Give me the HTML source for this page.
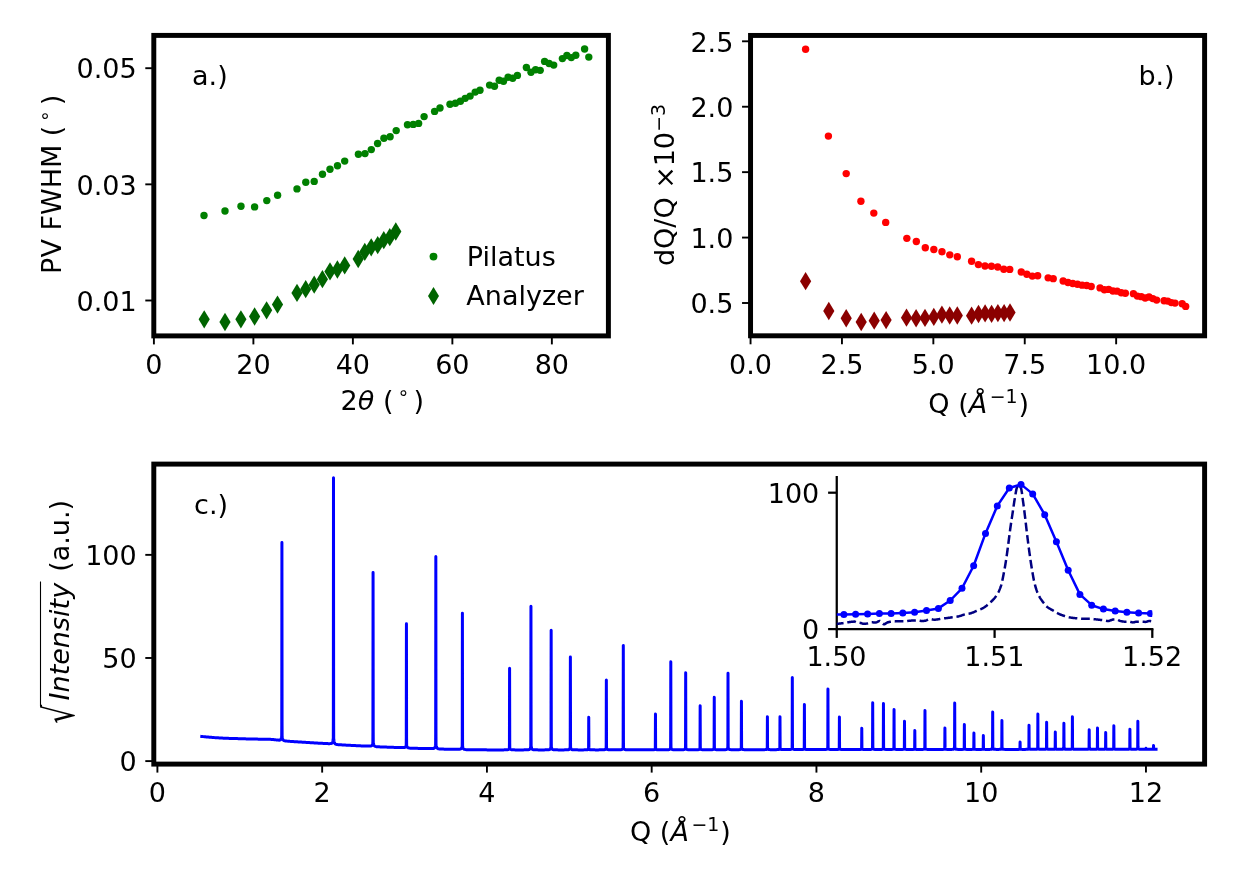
<!DOCTYPE html>
<html><head><meta charset="utf-8"><title>figure</title>
<style>html,body{margin:0;padding:0;background:#fff}svg{display:block;will-change:transform;transform:translateZ(0)}</style></head>
<body>
<svg width="1240" height="886" viewBox="0 0 1240 886" font-family='"DejaVu Sans", "Liberation Sans", sans-serif' fill="#000">
<rect width="1240" height="886" fill="#fff"/>
<g id="pa">
<circle cx="204.00" cy="215.50" r="3.7" fill="#008000"/>
<circle cx="225.00" cy="211.00" r="3.7" fill="#008000"/>
<circle cx="241.00" cy="206.30" r="3.7" fill="#008000"/>
<circle cx="254.60" cy="206.90" r="3.7" fill="#008000"/>
<circle cx="266.80" cy="200.60" r="3.7" fill="#008000"/>
<circle cx="277.60" cy="195.20" r="3.7" fill="#008000"/>
<circle cx="297.00" cy="188.90" r="3.7" fill="#008000"/>
<circle cx="305.80" cy="182.30" r="3.7" fill="#008000"/>
<circle cx="314.20" cy="181.40" r="3.7" fill="#008000"/>
<circle cx="322.50" cy="174.20" r="3.7" fill="#008000"/>
<circle cx="330.00" cy="169.20" r="3.7" fill="#008000"/>
<circle cx="337.50" cy="165.80" r="3.7" fill="#008000"/>
<circle cx="344.70" cy="161.10" r="3.7" fill="#008000"/>
<circle cx="358.40" cy="154.30" r="3.7" fill="#008000"/>
<circle cx="365.00" cy="153.60" r="3.7" fill="#008000"/>
<circle cx="371.30" cy="149.60" r="3.7" fill="#008000"/>
<circle cx="377.60" cy="143.50" r="3.7" fill="#008000"/>
<circle cx="383.90" cy="138.30" r="3.7" fill="#008000"/>
<circle cx="390.10" cy="136.70" r="3.7" fill="#008000"/>
<circle cx="396.20" cy="130.60" r="3.7" fill="#008000"/>
<circle cx="407.50" cy="124.70" r="3.7" fill="#008000"/>
<circle cx="413.20" cy="124.40" r="3.7" fill="#008000"/>
<circle cx="418.60" cy="123.40" r="3.7" fill="#008000"/>
<circle cx="424.10" cy="116.60" r="3.7" fill="#008000"/>
<circle cx="434.60" cy="111.40" r="3.7" fill="#008000"/>
<circle cx="440.00" cy="108.00" r="3.7" fill="#008000"/>
<circle cx="450.00" cy="104.30" r="3.7" fill="#008000"/>
<circle cx="455.40" cy="103.30" r="3.7" fill="#008000"/>
<circle cx="460.40" cy="101.20" r="3.7" fill="#008000"/>
<circle cx="465.20" cy="98.35" r="3.7" fill="#008000"/>
<circle cx="470.10" cy="96.10" r="3.7" fill="#008000"/>
<circle cx="475.20" cy="92.10" r="3.7" fill="#008000"/>
<circle cx="480.00" cy="90.30" r="3.7" fill="#008000"/>
<circle cx="489.60" cy="85.10" r="3.7" fill="#008000"/>
<circle cx="494.50" cy="86.20" r="3.7" fill="#008000"/>
<circle cx="499.20" cy="80.30" r="3.7" fill="#008000"/>
<circle cx="503.50" cy="81.30" r="3.7" fill="#008000"/>
<circle cx="508.10" cy="77.20" r="3.7" fill="#008000"/>
<circle cx="512.70" cy="78.20" r="3.7" fill="#008000"/>
<circle cx="517.40" cy="75.40" r="3.7" fill="#008000"/>
<circle cx="526.40" cy="67.50" r="3.7" fill="#008000"/>
<circle cx="531.00" cy="72.20" r="3.7" fill="#008000"/>
<circle cx="535.60" cy="69.70" r="3.7" fill="#008000"/>
<circle cx="540.20" cy="70.35" r="3.7" fill="#008000"/>
<circle cx="544.60" cy="61.40" r="3.7" fill="#008000"/>
<circle cx="549.10" cy="63.50" r="3.7" fill="#008000"/>
<circle cx="553.70" cy="65.10" r="3.7" fill="#008000"/>
<circle cx="562.40" cy="58.60" r="3.7" fill="#008000"/>
<circle cx="566.90" cy="55.45" r="3.7" fill="#008000"/>
<circle cx="571.30" cy="57.60" r="3.7" fill="#008000"/>
<circle cx="575.80" cy="55.20" r="3.7" fill="#008000"/>
<circle cx="584.60" cy="49.00" r="3.7" fill="#008000"/>
<circle cx="588.80" cy="57.10" r="3.7" fill="#008000"/>
<path d="M204.20 310.15L209.80 319.30L204.20 328.45L198.60 319.30Z" fill="#006400"/>
<path d="M225.00 312.85L230.60 322.00L225.00 331.15L219.40 322.00Z" fill="#006400"/>
<path d="M240.90 310.15L246.50 319.30L240.90 328.45L235.30 319.30Z" fill="#006400"/>
<path d="M254.60 307.35L260.20 316.50L254.60 325.65L249.00 316.50Z" fill="#006400"/>
<path d="M266.60 301.15L272.20 310.30L266.60 319.45L261.00 310.30Z" fill="#006400"/>
<path d="M277.50 295.45L283.10 304.60L277.50 313.75L271.90 304.60Z" fill="#006400"/>
<path d="M297.00 283.75L302.60 292.90L297.00 302.05L291.40 292.90Z" fill="#006400"/>
<path d="M305.70 280.05L311.30 289.20L305.70 298.35L300.10 289.20Z" fill="#006400"/>
<path d="M314.20 275.55L319.80 284.70L314.20 293.85L308.60 284.70Z" fill="#006400"/>
<path d="M322.40 270.05L328.00 279.20L322.40 288.35L316.80 279.20Z" fill="#006400"/>
<path d="M330.00 262.25L335.60 271.40L330.00 280.55L324.40 271.40Z" fill="#006400"/>
<path d="M337.40 260.35L343.00 269.50L337.40 278.65L331.80 269.50Z" fill="#006400"/>
<path d="M344.70 256.25L350.30 265.40L344.70 274.55L339.10 265.40Z" fill="#006400"/>
<path d="M358.20 249.85L363.80 259.00L358.20 268.15L352.60 259.00Z" fill="#006400"/>
<path d="M364.80 242.75L370.40 251.90L364.80 261.05L359.20 251.90Z" fill="#006400"/>
<path d="M371.20 238.15L376.80 247.30L371.20 256.45L365.60 247.30Z" fill="#006400"/>
<path d="M377.70 236.05L383.30 245.20L377.70 254.35L372.10 245.20Z" fill="#006400"/>
<path d="M383.80 231.05L389.40 240.20L383.80 249.35L378.20 240.20Z" fill="#006400"/>
<path d="M389.80 228.05L395.40 237.20L389.80 246.35L384.20 237.20Z" fill="#006400"/>
<path d="M395.80 222.35L401.40 231.50L395.80 240.65L390.20 231.50Z" fill="#006400"/>
<rect x="153.80" y="35.40" width="454.60" height="300.50" fill="none" stroke="#000" stroke-width="4.95" stroke-linejoin="miter"/>
<line x1="153.90" y1="335.90" x2="153.90" y2="344.40" stroke="#000" stroke-width="1.9"/>
<text x="153.90" y="373.60" font-size="27.00" text-anchor="middle" >0</text>
<line x1="253.39" y1="335.90" x2="253.39" y2="344.40" stroke="#000" stroke-width="1.9"/>
<text x="253.39" y="373.60" font-size="27.00" text-anchor="middle" >20</text>
<line x1="352.88" y1="335.90" x2="352.88" y2="344.40" stroke="#000" stroke-width="1.9"/>
<text x="352.88" y="373.60" font-size="27.00" text-anchor="middle" >40</text>
<line x1="452.37" y1="335.90" x2="452.37" y2="344.40" stroke="#000" stroke-width="1.9"/>
<text x="452.37" y="373.60" font-size="27.00" text-anchor="middle" >60</text>
<line x1="551.86" y1="335.90" x2="551.86" y2="344.40" stroke="#000" stroke-width="1.9"/>
<text x="551.86" y="373.60" font-size="27.00" text-anchor="middle" >80</text>
<line x1="153.80" y1="300.50" x2="145.30" y2="300.50" stroke="#000" stroke-width="1.9"/>
<text x="136.70" y="310.65" font-size="27.00" text-anchor="end" >0.01</text>
<line x1="153.80" y1="184.35" x2="145.30" y2="184.35" stroke="#000" stroke-width="1.9"/>
<text x="136.70" y="194.50" font-size="27.00" text-anchor="end" >0.03</text>
<line x1="153.80" y1="68.20" x2="145.30" y2="68.20" stroke="#000" stroke-width="1.9"/>
<text x="136.70" y="78.35" font-size="27.00" text-anchor="end" >0.05</text>
<text x="192.00" y="84.80" font-size="27.00" text-anchor="start" >a.)</text>
<circle cx="433.50" cy="256.60" r="3.9" fill="#008000"/>
<path d="M433.50 287.10L439.00 296.10L433.50 305.10L428.00 296.10Z" fill="#006400"/>
<text x="466.80" y="265.90" font-size="27.00" text-anchor="start" >Pilatus</text>
<text x="466.30" y="305.20" font-size="27.00" text-anchor="start" >Analyzer</text>
<text x="340.6" y="409.6" font-size="27.0">2<tspan font-style="italic">θ</tspan> (<tspan font-size="18.9" dy="-10.2" dx="4.1">∘</tspan><tspan dy="10.2" dx="4.1">)</tspan></text>
<text transform="translate(61.3,273.9) rotate(-90)" font-size="27.0">PV FWHM (<tspan font-size="18.9" dy="-10.6" dx="3.7">∘</tspan><tspan dy="10.6" dx="4.9">)</tspan></text>
</g>
<g id="pb">
<circle cx="805.60" cy="49.20" r="3.7" fill="#ff0000"/>
<circle cx="828.40" cy="136.10" r="3.7" fill="#ff0000"/>
<circle cx="846.20" cy="173.60" r="3.7" fill="#ff0000"/>
<circle cx="860.90" cy="201.20" r="3.7" fill="#ff0000"/>
<circle cx="873.80" cy="213.10" r="3.7" fill="#ff0000"/>
<circle cx="885.70" cy="222.40" r="3.7" fill="#ff0000"/>
<circle cx="906.85" cy="238.33" r="3.7" fill="#ff0000"/>
<circle cx="916.33" cy="241.44" r="3.7" fill="#ff0000"/>
<circle cx="925.30" cy="247.82" r="3.7" fill="#ff0000"/>
<circle cx="933.83" cy="249.44" r="3.7" fill="#ff0000"/>
<circle cx="941.98" cy="251.75" r="3.7" fill="#ff0000"/>
<circle cx="949.79" cy="254.83" r="3.7" fill="#ff0000"/>
<circle cx="957.32" cy="256.78" r="3.7" fill="#ff0000"/>
<circle cx="971.59" cy="261.30" r="3.7" fill="#ff0000"/>
<circle cx="978.39" cy="264.61" r="3.7" fill="#ff0000"/>
<circle cx="985.00" cy="265.96" r="3.7" fill="#ff0000"/>
<circle cx="991.42" cy="266.25" r="3.7" fill="#ff0000"/>
<circle cx="997.68" cy="266.97" r="3.7" fill="#ff0000"/>
<circle cx="1003.79" cy="269.23" r="3.7" fill="#ff0000"/>
<circle cx="1009.74" cy="269.39" r="3.7" fill="#ff0000"/>
<circle cx="1021.27" cy="271.97" r="3.7" fill="#ff0000"/>
<circle cx="1026.85" cy="274.28" r="3.7" fill="#ff0000"/>
<circle cx="1032.32" cy="276.10" r="3.7" fill="#ff0000"/>
<circle cx="1037.69" cy="275.68" r="3.7" fill="#ff0000"/>
<circle cx="1048.14" cy="277.83" r="3.7" fill="#ff0000"/>
<circle cx="1053.22" cy="278.64" r="3.7" fill="#ff0000"/>
<circle cx="1063.15" cy="280.99" r="3.7" fill="#ff0000"/>
<circle cx="1068.00" cy="282.54" r="3.7" fill="#ff0000"/>
<circle cx="1072.77" cy="283.55" r="3.7" fill="#ff0000"/>
<circle cx="1077.48" cy="284.23" r="3.7" fill="#ff0000"/>
<circle cx="1082.11" cy="285.13" r="3.7" fill="#ff0000"/>
<circle cx="1086.69" cy="285.52" r="3.7" fill="#ff0000"/>
<circle cx="1091.20" cy="286.50" r="3.7" fill="#ff0000"/>
<circle cx="1100.05" cy="287.92" r="3.7" fill="#ff0000"/>
<circle cx="1104.39" cy="289.72" r="3.7" fill="#ff0000"/>
<circle cx="1108.68" cy="289.42" r="3.7" fill="#ff0000"/>
<circle cx="1112.92" cy="290.96" r="3.7" fill="#ff0000"/>
<circle cx="1117.11" cy="291.15" r="3.7" fill="#ff0000"/>
<circle cx="1121.25" cy="292.72" r="3.7" fill="#ff0000"/>
<circle cx="1125.34" cy="293.27" r="3.7" fill="#ff0000"/>
<circle cx="1133.41" cy="293.67" r="3.7" fill="#ff0000"/>
<circle cx="1137.37" cy="296.10" r="3.7" fill="#ff0000"/>
<circle cx="1141.30" cy="296.67" r="3.7" fill="#ff0000"/>
<circle cx="1145.19" cy="298.01" r="3.7" fill="#ff0000"/>
<circle cx="1149.04" cy="296.96" r="3.7" fill="#ff0000"/>
<circle cx="1152.85" cy="298.59" r="3.7" fill="#ff0000"/>
<circle cx="1156.63" cy="300.10" r="3.7" fill="#ff0000"/>
<circle cx="1164.08" cy="300.71" r="3.7" fill="#ff0000"/>
<circle cx="1167.76" cy="301.08" r="3.7" fill="#ff0000"/>
<circle cx="1171.40" cy="302.59" r="3.7" fill="#ff0000"/>
<circle cx="1175.01" cy="303.11" r="3.7" fill="#ff0000"/>
<circle cx="1182.15" cy="303.81" r="3.7" fill="#ff0000"/>
<circle cx="1185.67" cy="306.42" r="3.7" fill="#ff0000"/>
<path d="M805.60 272.00L811.20 281.15L805.60 290.30L800.00 281.15Z" fill="#8b0000"/>
<path d="M828.80 301.85L834.40 311.00L828.80 320.15L823.20 311.00Z" fill="#8b0000"/>
<path d="M846.20 309.10L851.80 318.25L846.20 327.40L840.60 318.25Z" fill="#8b0000"/>
<path d="M861.20 312.85L866.80 322.00L861.20 331.15L855.60 322.00Z" fill="#8b0000"/>
<path d="M874.20 311.55L879.80 320.70L874.20 329.85L868.60 320.70Z" fill="#8b0000"/>
<path d="M886.10 310.95L891.70 320.10L886.10 329.25L880.50 320.10Z" fill="#8b0000"/>
<path d="M906.50 308.55L912.10 317.70L906.50 326.85L900.90 317.70Z" fill="#8b0000"/>
<path d="M916.10 309.10L921.70 318.25L916.10 327.40L910.50 318.25Z" fill="#8b0000"/>
<path d="M925.00 308.75L930.60 317.90L925.00 327.05L919.40 317.90Z" fill="#8b0000"/>
<path d="M933.80 307.80L939.40 316.95L933.80 326.10L928.20 316.95Z" fill="#8b0000"/>
<path d="M941.90 305.55L947.50 314.70L941.90 323.85L936.30 314.70Z" fill="#8b0000"/>
<path d="M949.70 306.35L955.30 315.50L949.70 324.65L944.10 315.50Z" fill="#8b0000"/>
<path d="M957.30 306.35L962.90 315.50L957.30 324.65L951.70 315.50Z" fill="#8b0000"/>
<path d="M971.60 306.50L977.20 315.65L971.60 324.80L966.00 315.65Z" fill="#8b0000"/>
<path d="M978.50 304.85L984.10 314.00L978.50 323.15L972.90 314.00Z" fill="#8b0000"/>
<path d="M985.10 304.25L990.70 313.40L985.10 322.55L979.50 313.40Z" fill="#8b0000"/>
<path d="M991.60 304.65L997.20 313.80L991.60 322.95L986.00 313.80Z" fill="#8b0000"/>
<path d="M997.90 303.90L1003.50 313.05L997.90 322.20L992.30 313.05Z" fill="#8b0000"/>
<path d="M1004.10 303.90L1009.70 313.05L1004.10 322.20L998.50 313.05Z" fill="#8b0000"/>
<path d="M1010.00 303.35L1015.60 312.50L1010.00 321.65L1004.40 312.50Z" fill="#8b0000"/>
<rect x="750.55" y="35.45" width="454.05" height="300.35" fill="none" stroke="#000" stroke-width="4.95" stroke-linejoin="miter"/>
<line x1="750.55" y1="335.80" x2="750.55" y2="344.30" stroke="#000" stroke-width="1.9"/>
<text x="750.55" y="373.60" font-size="27.00" text-anchor="middle" >0.0</text>
<line x1="841.95" y1="335.80" x2="841.95" y2="344.30" stroke="#000" stroke-width="1.9"/>
<text x="841.95" y="373.60" font-size="27.00" text-anchor="middle" >2.5</text>
<line x1="933.35" y1="335.80" x2="933.35" y2="344.30" stroke="#000" stroke-width="1.9"/>
<text x="933.35" y="373.60" font-size="27.00" text-anchor="middle" >5.0</text>
<line x1="1024.75" y1="335.80" x2="1024.75" y2="344.30" stroke="#000" stroke-width="1.9"/>
<text x="1024.75" y="373.60" font-size="27.00" text-anchor="middle" >7.5</text>
<line x1="1116.15" y1="335.80" x2="1116.15" y2="344.30" stroke="#000" stroke-width="1.9"/>
<text x="1116.15" y="373.60" font-size="27.00" text-anchor="middle" >10.0</text>
<line x1="750.55" y1="303.00" x2="742.05" y2="303.00" stroke="#000" stroke-width="1.9"/>
<text x="733.40" y="313.20" font-size="27.00" text-anchor="end" >0.5</text>
<line x1="750.55" y1="237.57" x2="742.05" y2="237.57" stroke="#000" stroke-width="1.9"/>
<text x="733.40" y="247.77" font-size="27.00" text-anchor="end" >1.0</text>
<line x1="750.55" y1="172.15" x2="742.05" y2="172.15" stroke="#000" stroke-width="1.9"/>
<text x="733.40" y="182.35" font-size="27.00" text-anchor="end" >1.5</text>
<line x1="750.55" y1="106.73" x2="742.05" y2="106.73" stroke="#000" stroke-width="1.9"/>
<text x="733.40" y="116.93" font-size="27.00" text-anchor="end" >2.0</text>
<line x1="750.55" y1="41.30" x2="742.05" y2="41.30" stroke="#000" stroke-width="1.9"/>
<text x="733.40" y="51.50" font-size="27.00" text-anchor="end" >2.5</text>
<text x="1138.40" y="84.80" font-size="27.00" text-anchor="start" >b.)</text>
<text x="928.30" y="412.60" font-size="27.0">Q (<tspan font-style="italic">Å</tspan><tspan font-size="18.9" dy="-9.9" dx="2.6">−1</tspan><tspan dy="9.9" dx="1.0">)</tspan></text>
<text transform="translate(674.1,266.1) rotate(-90)" font-size="27.0">dQ/Q ×<tspan dx="-0.2">10</tspan><tspan font-size="18.9" dy="-9.5" dx="0.2">−3</tspan></text>
</g>
<g id="pc">
<polyline points="200.300,736.33 201.300,736.44 202.300,736.53 203.300,736.62 204.300,736.71 205.300,736.80 206.300,736.89 207.300,736.98 208.300,737.07 209.300,737.16 210.300,737.25 211.300,737.34 212.300,737.43 213.300,737.52 214.300,737.61 215.300,737.66 216.300,737.72 217.300,737.78 218.300,737.84 219.300,737.90 220.300,737.95 221.300,738.01 222.300,738.07 223.300,738.13 224.300,738.18 225.300,738.24 226.300,738.30 227.300,738.33 228.300,738.36 229.300,738.39 230.300,738.42 231.300,738.44 232.300,738.47 233.300,738.50 234.300,738.53 235.300,738.56 236.300,738.59 237.300,738.62 238.300,738.65 239.300,738.68 240.300,738.70 241.300,738.73 242.300,738.76 243.300,738.79 244.300,738.82 245.300,738.85 246.300,738.88 247.300,738.91 248.300,738.94 249.300,738.97 250.300,738.99 251.300,739.01 252.300,739.03 253.300,739.05 254.300,739.07 255.300,739.09 256.300,739.11 257.300,739.12 258.300,739.14 259.300,739.16 260.300,739.18 261.300,739.20 262.300,739.22 263.300,739.23 264.300,739.25 265.300,739.27 266.300,739.29 267.300,739.31 268.300,739.33 269.300,739.34 270.300,739.36 271.300,739.38 272.300,739.40 273.300,739.54 274.300,739.66 275.300,739.79 275.917,739.87 276.300,739.92 277.300,740.03 277.917,740.09 278.300,740.12 278.917,740.16 279.300,740.15 279.917,740.08 280.300,739.94 280.417,739.86 280.717,739.59 281.017,739.09 281.217,738.54 281.300,738.24 281.417,737.74 281.567,736.98 281.697,736.33 281.767,723.97 281.817,663.46 281.867,603.01 281.917,542.61 281.967,603.01 282.017,663.47 282.067,724.00 282.137,736.38 282.267,737.06 282.300,737.24 282.417,737.85 282.617,738.70 282.817,739.30 283.117,739.86 283.300,740.09 283.417,740.20 283.917,740.54 284.300,740.69 284.917,740.84 285.300,740.91 285.917,740.99 286.300,741.03 287.300,741.12 287.917,741.18 288.300,741.21 289.300,741.28 290.300,741.38 291.300,741.44 292.300,741.50 293.300,741.57 294.300,741.63 295.300,741.70 296.300,741.76 297.300,741.82 298.300,741.89 299.300,741.95 300.300,742.02 301.300,742.08 302.300,742.14 303.300,742.21 304.300,742.27 305.300,742.34 306.300,742.40 307.300,742.46 308.300,742.53 309.300,742.59 310.300,742.66 311.300,742.72 312.300,742.78 313.300,742.83 314.300,742.89 315.300,742.95 316.300,743.01 317.300,743.07 318.300,743.13 319.300,743.19 320.300,743.24 321.300,743.30 322.300,743.36 323.300,743.42 324.300,743.48 325.300,743.54 326.300,743.55 327.300,743.59 327.494,743.60 328.300,743.63 329.300,743.64 329.494,743.64 330.300,743.60 330.494,743.59 331.300,743.43 331.494,743.35 331.994,743.08 332.294,742.72 332.300,742.71 332.594,742.06 332.794,741.33 332.994,740.25 333.144,739.24 333.274,738.36 333.300,738.21 333.344,721.75 333.394,640.37 333.444,559.06 333.494,477.83 333.544,559.06 333.594,640.39 333.644,721.80 333.714,738.45 333.844,739.37 333.994,740.44 334.194,741.59 334.300,742.05 334.394,742.40 334.694,743.17 334.994,743.64 335.300,743.94 335.494,744.06 336.300,744.36 336.494,744.41 337.300,744.54 337.494,744.57 338.300,744.65 339.300,744.73 339.494,744.75 340.300,744.80 341.300,744.86 342.300,744.95 343.300,745.00 344.300,745.05 345.300,745.10 346.300,745.15 347.300,745.20 348.300,745.25 349.300,745.30 350.300,745.35 351.300,745.40 352.300,745.45 353.300,745.50 354.300,745.55 355.300,745.60 356.300,745.65 357.300,745.70 358.300,745.75 359.300,745.80 360.300,745.84 361.300,745.88 362.300,745.92 363.300,745.96 364.300,746.00 365.300,746.02 366.300,746.05 367.070,746.07 367.300,746.08 368.300,746.10 369.070,746.10 369.300,746.10 370.070,746.07 370.300,746.06 371.070,745.92 371.300,745.84 371.570,745.71 371.870,745.47 372.170,745.03 372.300,744.74 372.370,744.55 372.570,743.85 372.720,743.18 372.850,742.61 372.920,731.76 372.970,678.63 373.020,625.55 373.070,572.52 373.120,625.55 373.170,678.64 373.220,731.79 373.290,742.65 373.300,742.69 373.420,743.25 373.570,743.95 373.770,744.69 373.970,745.22 374.270,745.72 374.300,745.75 374.570,746.02 375.070,746.31 375.300,746.40 376.070,746.61 376.300,746.65 377.070,746.73 377.300,746.75 378.300,746.81 379.070,746.85 379.300,746.86 380.300,746.90 381.300,746.96 382.300,746.99 383.300,747.03 384.300,747.06 385.300,747.09 386.300,747.12 387.300,747.16 388.300,747.19 389.300,747.22 390.300,747.25 391.300,747.29 392.300,747.32 393.300,747.35 394.300,747.38 395.300,747.42 396.300,747.45 397.300,747.48 398.300,747.51 399.300,747.52 400.300,747.55 400.435,747.55 401.300,747.57 402.300,747.58 402.435,747.58 403.300,747.56 403.435,747.56 404.300,747.49 404.435,747.48 404.935,747.36 405.235,747.20 405.300,747.14 405.535,746.89 405.735,746.55 405.935,746.06 406.085,745.59 406.215,745.18 406.285,737.44 406.300,725.86 406.335,699.51 406.385,661.62 406.435,623.77 406.485,661.62 406.535,699.52 406.585,737.46 406.655,745.22 406.785,745.66 406.935,746.16 407.135,746.69 407.300,747.02 407.335,747.07 407.635,747.44 407.935,747.66 408.300,747.84 408.435,747.89 409.300,748.08 409.435,748.09 410.300,748.15 410.435,748.16 411.300,748.20 412.300,748.23 412.435,748.24 413.300,748.26 414.300,748.29 415.300,748.32 416.300,748.34 417.300,748.36 418.300,748.38 419.300,748.40 420.300,748.42 421.300,748.44 422.300,748.46 423.300,748.48 424.300,748.50 425.300,748.52 426.300,748.54 427.300,748.56 428.300,748.55 429.300,748.56 429.829,748.56 430.300,748.56 431.300,748.56 431.829,748.54 432.300,748.52 432.829,748.48 433.300,748.42 433.829,748.29 434.300,748.06 434.329,748.04 434.629,747.76 434.929,747.27 435.129,746.73 435.300,746.07 435.329,745.94 435.479,745.21 435.609,744.57 435.679,732.57 435.729,673.87 435.779,615.21 435.829,556.62 435.879,615.21 435.929,673.88 435.979,732.60 436.049,744.60 436.179,745.26 436.300,745.88 436.329,746.02 436.529,746.84 436.729,747.42 437.029,747.96 437.300,748.26 437.329,748.28 437.829,748.59 438.300,748.76 438.829,748.88 439.300,748.96 439.829,749.00 440.300,749.02 441.300,749.06 441.829,749.08 442.300,749.09 443.300,749.11 444.300,749.15 445.300,749.16 446.300,749.17 447.300,749.17 448.300,749.18 449.300,749.19 450.300,749.20 451.300,749.21 452.300,749.22 453.300,749.23 454.300,749.24 455.300,749.22 456.300,749.22 456.404,749.22 457.300,749.22 458.300,749.20 458.404,749.20 459.300,749.16 459.404,749.15 460.300,749.04 460.404,749.01 460.904,748.83 461.204,748.64 461.300,748.56 461.504,748.31 461.704,747.94 461.904,747.39 462.054,746.88 462.184,746.43 462.254,737.94 462.300,699.68 462.304,696.34 462.354,654.77 462.404,613.25 462.454,654.78 462.504,696.35 462.554,737.97 462.624,746.48 462.754,746.95 462.904,747.50 463.104,748.09 463.300,748.50 463.304,748.51 463.604,748.91 463.904,749.15 464.300,749.36 464.404,749.40 465.300,749.57 465.404,749.58 466.300,749.63 466.404,749.64 467.300,749.67 468.300,749.69 468.404,749.70 469.300,749.71 470.300,749.73 471.300,749.75 472.300,749.76 473.300,749.77 474.300,749.78 475.300,749.78 476.300,749.79 477.300,749.80 478.300,749.81 479.300,749.82 480.300,749.82 481.300,749.83 482.300,749.84 483.300,749.85 484.300,749.86 485.300,749.86 486.300,749.87 487.300,749.88 488.300,749.89 489.300,749.89 490.300,749.90 491.300,749.90 492.300,749.90 493.300,749.90 494.300,749.90 495.300,749.90 496.300,749.90 497.300,749.90 498.300,749.90 499.300,749.90 500.300,749.90 501.300,749.90 502.300,749.89 503.300,749.88 503.588,749.88 504.300,749.87 505.300,749.86 505.588,749.86 506.300,749.83 506.588,749.82 507.300,749.77 507.588,749.73 508.088,749.62 508.300,749.54 508.388,749.49 508.688,749.27 508.888,749.04 509.088,748.70 509.238,748.38 509.300,748.24 509.368,748.10 509.438,743.01 509.488,718.09 509.538,693.19 509.588,668.32 509.638,693.19 509.688,718.09 509.738,743.01 509.808,748.10 509.938,748.38 510.088,748.70 510.288,749.04 510.300,749.05 510.488,749.27 510.788,749.49 511.088,749.62 511.300,749.68 511.588,749.73 512.300,749.80 512.588,749.82 513.300,749.85 513.588,749.86 514.300,749.87 515.300,749.88 515.588,749.88 516.300,749.88 517.300,749.89 518.300,749.90 519.300,749.90 520.300,749.90 521.300,749.90 522.300,749.90 523.300,749.88 524.300,749.87 524.952,749.86 525.300,749.86 526.300,749.84 526.952,749.82 527.300,749.81 527.952,749.76 528.300,749.73 528.952,749.60 529.300,749.48 529.452,749.40 529.752,749.18 530.052,748.79 530.252,748.38 530.300,748.25 530.452,747.78 530.602,747.22 530.732,746.73 530.802,737.77 530.852,693.88 530.902,650.04 530.952,606.24 531.002,650.04 531.052,693.88 531.102,737.77 531.172,746.73 531.300,747.21 531.302,747.22 531.452,747.78 531.652,748.38 531.852,748.79 532.152,749.18 532.300,749.31 532.452,749.40 532.952,749.60 533.300,749.68 533.952,749.76 534.300,749.79 534.952,749.82 535.300,749.83 536.300,749.86 536.952,749.86 537.300,749.87 538.300,749.88 539.300,749.90 540.300,749.90 541.300,749.90 542.300,749.90 543.300,749.88 544.300,749.88 545.158,749.87 545.300,749.87 546.300,749.86 547.158,749.83 547.300,749.83 548.158,749.79 548.300,749.77 549.158,749.65 549.300,749.62 549.658,749.49 549.958,749.30 550.258,748.98 550.300,748.92 550.458,748.63 550.658,748.14 550.808,747.67 550.938,747.27 551.008,739.80 551.058,703.29 551.108,666.81 551.158,630.37 551.208,666.81 551.258,703.29 551.300,733.60 551.308,739.80 551.378,747.27 551.508,747.67 551.658,748.14 551.858,748.63 552.058,748.98 552.300,749.25 552.358,749.30 552.658,749.49 553.158,749.65 553.300,749.68 554.158,749.79 554.300,749.79 555.158,749.83 555.300,749.84 556.300,749.86 557.158,749.87 557.300,749.87 558.300,749.88 559.300,749.90 560.300,749.90 561.300,749.90 562.300,749.90 563.300,749.88 564.300,749.88 564.377,749.87 565.300,749.87 566.300,749.85 566.377,749.85 567.300,749.81 567.377,749.81 568.300,749.72 568.377,749.70 568.877,749.58 569.177,749.43 569.300,749.35 569.477,749.18 569.677,748.91 569.877,748.52 570.027,748.16 570.157,747.85 570.227,742.05 570.277,713.66 570.300,700.84 570.327,685.30 570.377,656.97 570.427,685.30 570.477,713.66 570.527,742.05 570.597,747.85 570.727,748.16 570.877,748.52 571.077,748.91 571.277,749.18 571.300,749.20 571.577,749.43 571.877,749.57 572.300,749.69 572.377,749.70 573.300,749.80 573.377,749.80 574.300,749.84 574.377,749.84 575.300,749.86 576.300,749.87 576.377,749.87 577.300,749.87 578.300,749.88 579.300,749.89 580.300,749.89 581.300,749.88 582.300,749.88 582.741,749.88 583.300,749.88 584.300,749.87 584.741,749.87 585.300,749.86 585.741,749.86 586.300,749.84 586.741,749.82 587.241,749.77 587.300,749.77 587.541,749.72 587.841,749.64 588.041,749.54 588.241,749.41 588.300,749.36 588.391,749.28 588.521,749.17 588.591,747.13 588.641,737.18 588.691,727.23 588.741,717.30 588.791,727.23 588.841,737.18 588.891,747.13 588.961,749.17 589.091,749.28 589.241,749.40 589.300,749.45 589.441,749.54 589.641,749.63 589.941,749.72 590.241,749.77 590.300,749.78 590.741,749.82 591.300,749.84 591.741,749.85 592.300,749.86 592.741,749.87 593.300,749.87 594.300,749.87 594.741,749.87 595.300,749.88 596.300,749.88 597.300,749.88 598.300,749.88 599.300,749.87 600.300,749.86 600.354,749.86 601.300,749.86 602.300,749.84 602.354,749.84 603.300,749.81 603.354,749.81 604.300,749.74 604.354,749.73 604.854,749.64 605.154,749.53 605.300,749.45 605.454,749.34 605.654,749.14 605.854,748.85 606.004,748.57 606.134,748.34 606.204,743.98 606.254,722.66 606.300,702.96 606.304,701.35 606.354,680.07 606.404,701.35 606.454,722.66 606.504,743.98 606.574,748.34 606.704,748.57 606.854,748.85 607.054,749.14 607.254,749.34 607.300,749.38 607.554,749.53 607.854,749.64 608.300,749.72 608.354,749.73 609.300,749.81 609.354,749.81 610.300,749.84 610.354,749.84 611.300,749.85 612.300,749.86 612.354,749.86 613.300,749.86 614.300,749.86 615.300,749.87 616.300,749.85 617.300,749.85 617.301,749.85 618.300,749.83 619.300,749.81 619.301,749.81 620.300,749.77 620.301,749.77 621.300,749.65 621.301,749.65 621.801,749.51 622.101,749.35 622.300,749.18 622.401,749.07 622.601,748.76 622.801,748.33 622.951,747.92 623.081,747.57 623.151,741.05 623.201,709.14 623.251,677.27 623.300,646.28 623.301,645.42 623.351,677.27 623.401,709.14 623.451,741.05 623.521,747.57 623.651,747.92 623.801,748.33 624.001,748.76 624.201,749.06 624.300,749.18 624.501,749.35 624.801,749.51 625.300,749.65 625.301,749.65 626.300,749.77 626.301,749.77 627.300,749.81 627.301,749.81 628.300,749.83 629.300,749.84 629.301,749.84 630.300,749.85 631.300,749.85 632.300,749.86 633.300,749.86 634.300,749.86 635.300,749.86 636.300,749.86 637.300,749.86 638.300,749.86 639.300,749.86 640.300,749.86 641.300,749.86 642.300,749.86 643.300,749.86 644.300,749.86 645.300,749.86 646.300,749.86 647.300,749.86 648.300,749.85 649.300,749.85 649.469,749.85 650.300,749.84 651.300,749.84 651.469,749.83 652.300,749.82 652.469,749.82 653.300,749.79 653.469,749.78 653.969,749.73 654.269,749.67 654.300,749.67 654.569,749.58 654.769,749.47 654.969,749.32 655.119,749.18 655.249,749.06 655.300,749.02 655.319,746.82 655.369,735.83 655.419,724.86 655.469,713.90 655.519,724.86 655.569,735.83 655.619,746.82 655.689,749.06 655.819,749.18 655.969,749.32 656.169,749.47 656.300,749.54 656.369,749.58 656.669,749.67 656.969,749.73 657.300,749.76 657.469,749.78 658.300,749.81 658.469,749.82 659.300,749.83 659.469,749.83 660.300,749.84 661.300,749.84 661.469,749.84 662.300,749.84 663.300,749.83 664.300,749.82 664.798,749.82 665.300,749.82 666.300,749.80 666.798,749.79 667.300,749.77 667.798,749.75 668.300,749.72 668.798,749.65 669.298,749.53 669.300,749.53 669.598,749.39 669.898,749.16 670.098,748.90 670.298,748.53 670.300,748.53 670.448,748.19 670.578,747.89 670.648,742.39 670.698,715.47 670.748,688.58 670.798,661.72 670.848,688.58 670.898,715.47 670.948,742.39 671.018,747.89 671.148,748.19 671.298,748.53 671.300,748.53 671.498,748.90 671.698,749.15 671.998,749.39 672.298,749.53 672.300,749.53 672.798,749.65 673.300,749.71 673.798,749.74 674.300,749.76 674.798,749.78 675.300,749.79 676.300,749.80 676.798,749.80 677.300,749.80 678.300,749.79 679.300,749.80 679.682,749.80 680.300,749.79 681.300,749.78 681.682,749.77 682.300,749.75 682.682,749.74 683.300,749.70 683.682,749.65 684.182,749.54 684.300,749.50 684.482,749.42 684.782,749.22 684.982,748.99 685.182,748.67 685.300,748.44 685.332,748.37 685.462,748.11 685.532,743.31 685.582,719.80 685.632,696.31 685.682,672.85 685.732,696.31 685.782,719.80 685.832,743.31 685.902,748.11 686.032,748.37 686.182,748.67 686.300,748.87 686.382,748.99 686.582,749.21 686.882,749.42 687.182,749.54 687.300,749.57 687.682,749.65 688.300,749.71 688.682,749.73 689.300,749.75 689.682,749.76 690.300,749.77 691.300,749.78 691.682,749.78 692.300,749.77 693.300,749.77 694.159,749.78 694.300,749.78 695.300,749.77 696.159,749.77 696.300,749.76 697.159,749.75 697.300,749.74 698.159,749.70 698.300,749.68 698.659,749.63 698.959,749.57 699.259,749.45 699.300,749.42 699.459,749.32 699.659,749.14 699.809,748.96 699.939,748.82 700.009,746.07 700.059,732.65 700.109,719.25 700.159,705.85 700.209,719.25 700.259,732.65 700.300,743.75 700.309,746.07 700.379,748.81 700.509,748.96 700.659,749.13 700.859,749.32 701.059,749.44 701.300,749.54 701.359,749.56 701.659,749.63 702.159,749.69 702.300,749.70 703.159,749.74 703.300,749.74 704.159,749.75 704.300,749.75 705.300,749.76 706.159,749.76 706.300,749.76 707.300,749.75 708.259,749.76 708.300,749.76 709.300,749.75 710.259,749.74 710.300,749.74 711.259,749.71 711.300,749.71 712.259,749.65 712.300,749.65 712.759,749.58 713.059,749.50 713.300,749.39 713.359,749.36 713.559,749.20 713.759,748.98 713.909,748.78 714.039,748.60 714.109,745.32 714.159,729.26 714.209,713.22 714.259,697.19 714.300,710.46 714.309,713.22 714.359,729.26 714.409,745.32 714.479,748.60 714.609,748.78 714.759,748.98 714.959,749.20 715.159,749.35 715.300,749.43 715.459,749.49 715.759,749.58 716.259,749.65 716.300,749.65 717.259,749.70 717.300,749.71 718.259,749.72 718.300,749.72 719.300,749.73 720.259,749.73 720.300,749.73 721.300,749.72 722.010,749.72 722.300,749.73 723.300,749.71 724.010,749.70 724.300,749.69 725.010,749.67 725.300,749.65 726.010,749.58 726.300,749.53 726.510,749.48 726.810,749.36 727.110,749.15 727.300,748.94 727.310,748.93 727.510,748.61 727.660,748.31 727.790,748.05 727.860,743.28 727.910,719.92 727.960,696.58 728.010,673.27 728.060,696.58 728.110,719.92 728.160,743.28 728.230,748.05 728.300,748.19 728.360,748.31 728.510,748.61 728.710,748.93 728.910,749.15 729.210,749.35 729.300,749.39 729.510,749.47 730.010,749.58 730.300,749.61 731.010,749.66 731.300,749.67 732.010,749.69 732.300,749.69 733.300,749.70 734.010,749.70 734.300,749.70 735.300,749.70 735.438,749.70 736.300,749.71 737.300,749.70 737.438,749.69 738.300,749.68 738.438,749.67 739.300,749.63 739.438,749.62 739.938,749.55 740.238,749.47 740.300,749.45 740.538,749.34 740.738,749.20 740.938,749.00 741.088,748.81 741.218,748.65 741.288,745.63 741.300,742.15 741.338,730.84 741.388,716.07 741.438,701.32 741.488,716.07 741.538,730.84 741.588,745.63 741.658,748.65 741.788,748.81 741.938,749.00 742.138,749.20 742.300,749.32 742.338,749.34 742.638,749.47 742.938,749.54 743.300,749.60 743.438,749.61 744.300,749.66 744.438,749.66 745.300,749.68 745.438,749.68 746.300,749.69 747.300,749.69 747.438,749.69 748.300,749.69 749.300,749.69 750.300,749.70 751.300,749.70 752.300,749.70 753.300,749.69 754.300,749.69 755.300,749.69 756.300,749.69 757.300,749.69 758.300,749.68 759.300,749.68 760.300,749.67 761.300,749.67 761.408,749.67 762.300,749.66 763.300,749.66 763.408,749.66 764.300,749.64 764.408,749.64 765.300,749.61 765.408,749.60 765.908,749.55 766.208,749.50 766.300,749.48 766.508,749.41 766.708,749.32 766.908,749.18 767.058,749.05 767.188,748.94 767.258,746.89 767.300,738.46 767.308,736.84 767.358,726.81 767.408,716.78 767.458,726.81 767.508,736.84 767.558,746.89 767.628,748.94 767.758,749.05 767.908,749.18 768.108,749.32 768.300,749.41 768.308,749.41 768.608,749.50 768.908,749.55 769.300,749.59 769.408,749.59 770.300,749.63 770.408,749.63 771.300,749.64 771.408,749.64 772.300,749.64 773.300,749.64 773.408,749.64 773.987,749.64 774.300,749.64 775.300,749.63 775.987,749.63 776.300,749.63 776.987,749.61 777.300,749.61 777.987,749.58 778.300,749.55 778.487,749.53 778.787,749.48 779.087,749.39 779.287,749.29 779.300,749.29 779.487,749.16 779.637,749.03 779.767,748.92 779.837,746.87 779.887,736.83 779.937,726.80 779.987,716.78 780.037,726.80 780.087,736.83 780.137,746.86 780.207,748.92 780.300,748.99 780.337,749.03 780.487,749.15 780.687,749.29 780.887,749.39 781.187,749.47 781.300,749.50 781.487,749.52 781.987,749.57 782.300,749.58 782.987,749.60 783.300,749.61 783.987,749.61 784.300,749.62 785.300,749.61 785.987,749.60 786.300,749.60 786.316,749.60 787.300,749.59 788.300,749.58 788.316,749.58 789.300,749.55 789.316,749.55 790.300,749.47 790.316,749.47 790.816,749.37 791.116,749.26 791.300,749.15 791.416,749.06 791.616,748.85 791.816,748.55 791.966,748.27 792.096,748.02 792.166,743.52 792.216,721.45 792.266,699.41 792.300,684.65 792.316,677.39 792.366,699.41 792.416,721.45 792.466,743.51 792.536,748.02 792.666,748.27 792.816,748.55 793.016,748.85 793.216,749.06 793.300,749.12 793.516,749.25 793.816,749.36 794.300,749.46 794.316,749.46 795.300,749.54 795.316,749.54 796.300,749.57 796.316,749.57 797.300,749.57 798.300,749.57 798.316,749.57 798.411,749.57 799.300,749.57 800.300,749.57 800.411,749.57 801.300,749.56 801.411,749.55 802.300,749.51 802.411,749.50 802.911,749.44 803.211,749.37 803.300,749.34 803.511,749.25 803.711,749.12 803.911,748.93 804.061,748.75 804.191,748.60 804.261,745.79 804.300,735.14 804.311,732.05 804.361,718.33 804.411,704.62 804.461,718.33 804.511,732.05 804.561,745.79 804.631,748.60 804.761,748.75 804.911,748.93 805.111,749.11 805.300,749.24 805.311,749.24 805.611,749.36 805.911,749.43 806.300,749.48 806.411,749.49 807.300,749.54 807.411,749.54 808.300,749.56 808.411,749.56 809.300,749.56 810.300,749.57 810.411,749.57 811.300,749.57 812.300,749.57 813.300,749.57 814.300,749.57 815.300,749.57 816.300,749.57 817.300,749.57 818.300,749.56 819.300,749.56 820.300,749.55 821.300,749.55 821.947,749.54 822.300,749.54 823.300,749.53 823.947,749.52 824.300,749.51 824.947,749.49 825.300,749.48 825.947,749.42 826.300,749.37 826.447,749.34 826.747,749.24 827.047,749.08 827.247,748.90 827.300,748.84 827.447,748.65 827.597,748.41 827.727,748.21 827.797,744.43 827.847,725.91 827.897,707.42 827.947,688.94 827.997,707.42 828.047,725.91 828.097,744.42 828.167,748.21 828.297,748.41 828.300,748.42 828.447,748.65 828.647,748.90 828.847,749.08 829.147,749.24 829.300,749.29 829.447,749.33 829.947,749.42 830.300,749.45 830.947,749.48 831.300,749.49 831.947,749.50 832.300,749.50 833.300,749.51 833.410,749.51 833.947,749.51 834.300,749.51 835.300,749.50 835.410,749.50 836.300,749.50 836.410,749.50 837.300,749.46 837.410,749.46 837.910,749.41 838.210,749.36 838.300,749.34 838.510,749.27 838.710,749.18 838.910,749.04 839.060,748.92 839.190,748.80 839.260,746.77 839.300,738.77 839.310,736.84 839.360,726.91 839.410,716.99 839.460,726.91 839.510,736.84 839.560,746.77 839.630,748.80 839.760,748.91 839.910,749.04 840.110,749.18 840.300,749.27 840.310,749.27 840.610,749.36 840.910,749.41 841.300,749.44 841.410,749.45 842.300,749.48 842.410,749.48 843.300,749.49 843.410,749.50 844.300,749.50 845.300,749.50 845.410,749.50 846.300,749.50 847.300,749.50 848.300,749.50 849.300,749.50 850.300,749.50 851.300,749.50 852.300,749.50 853.300,749.50 854.300,749.49 855.300,749.49 855.777,749.49 856.300,749.49 857.300,749.49 857.777,749.48 858.300,749.48 858.777,749.47 859.300,749.47 859.777,749.45 860.277,749.42 860.300,749.42 860.577,749.39 860.877,749.33 861.077,749.27 861.277,749.18 861.300,749.17 861.427,749.10 861.557,749.03 861.627,747.71 861.677,741.24 861.727,734.78 861.777,728.33 861.827,734.78 861.877,741.24 861.927,747.71 861.997,749.03 862.127,749.10 862.277,749.18 862.300,749.19 862.477,749.27 862.677,749.33 862.977,749.39 863.277,749.42 863.300,749.42 863.777,749.45 864.300,749.46 864.777,749.46 865.300,749.47 865.777,749.47 866.300,749.47 866.698,749.47 867.300,749.47 867.777,749.47 868.300,749.46 868.698,749.46 869.300,749.45 869.698,749.44 870.300,749.42 870.698,749.39 871.198,749.33 871.300,749.31 871.498,749.25 871.798,749.13 871.998,748.99 872.198,748.80 872.300,748.68 872.348,748.62 872.478,748.46 872.548,745.54 872.598,731.27 872.648,717.00 872.698,702.76 872.748,717.00 872.798,731.27 872.848,745.54 872.918,748.46 873.048,748.61 873.198,748.80 873.300,748.90 873.398,748.99 873.598,749.13 873.898,749.25 874.198,749.32 874.300,749.34 874.698,749.39 875.300,749.43 875.698,749.43 876.300,749.44 876.698,749.45 877.300,749.45 877.455,749.45 878.300,749.45 878.698,749.45 879.300,749.45 879.455,749.45 880.300,749.43 880.455,749.43 881.300,749.40 881.455,749.39 881.955,749.32 882.255,749.25 882.300,749.24 882.555,749.13 882.755,748.99 882.955,748.80 883.105,748.62 883.235,748.47 883.300,746.95 883.305,745.60 883.355,731.58 883.405,717.58 883.455,703.58 883.505,717.58 883.555,731.58 883.605,745.60 883.675,748.47 883.805,748.62 883.955,748.80 884.155,748.99 884.300,749.10 884.355,749.13 884.655,749.25 884.955,749.32 885.300,749.37 885.455,749.38 886.300,749.42 886.455,749.43 887.300,749.44 887.455,749.44 888.055,749.45 888.300,749.45 889.300,749.45 889.455,749.45 890.055,749.45 890.300,749.44 891.055,749.43 891.300,749.42 892.055,749.39 892.300,749.37 892.555,749.34 892.855,749.28 893.155,749.17 893.300,749.09 893.355,749.05 893.555,748.89 893.705,748.73 893.835,748.59 893.905,746.10 893.955,733.91 894.005,721.73 894.055,709.57 894.105,721.73 894.155,733.91 894.205,746.10 894.275,748.59 894.300,748.62 894.405,748.73 894.555,748.88 894.755,749.05 894.955,749.17 895.255,749.27 895.300,749.29 895.555,749.34 896.055,749.39 896.300,749.41 897.055,749.43 897.300,749.43 898.055,749.44 898.300,749.45 898.504,749.45 899.300,749.45 900.055,749.45 900.300,749.45 900.504,749.45 901.300,749.44 901.504,749.44 902.300,749.42 902.504,749.41 903.004,749.37 903.300,749.33 903.304,749.33 903.604,749.25 903.804,749.17 904.004,749.05 904.154,748.94 904.284,748.85 904.300,748.84 904.354,747.09 904.404,738.49 904.454,729.90 904.504,721.32 904.554,729.90 904.604,738.49 904.654,747.09 904.724,748.85 904.854,748.94 905.004,749.05 905.204,749.17 905.300,749.21 905.404,749.25 905.704,749.33 906.004,749.37 906.300,749.40 906.504,749.41 907.300,749.43 907.504,749.44 908.300,749.44 908.504,749.45 908.810,749.45 909.300,749.45 910.300,749.45 910.504,749.45 910.810,749.45 911.300,749.45 911.810,749.44 912.300,749.43 912.810,749.42 913.300,749.40 913.310,749.40 913.610,749.37 913.910,749.32 914.110,749.26 914.300,749.19 914.310,749.18 914.460,749.11 914.590,749.05 914.660,747.87 914.710,742.11 914.760,736.35 914.810,730.60 914.860,736.35 914.910,742.11 914.960,747.87 915.030,749.05 915.160,749.11 915.300,749.18 915.310,749.18 915.510,749.26 915.710,749.32 916.010,749.37 916.300,749.40 916.310,749.40 916.810,749.42 917.300,749.43 917.810,749.44 918.300,749.44 918.810,749.44 918.977,749.44 919.300,749.44 920.300,749.44 920.810,749.43 920.977,749.43 921.300,749.43 921.977,749.42 922.300,749.41 922.977,749.38 923.300,749.35 923.477,749.32 923.777,749.26 924.077,749.16 924.277,749.04 924.300,749.03 924.477,748.88 924.627,748.73 924.757,748.60 924.827,746.17 924.877,734.30 924.927,722.44 924.977,710.60 925.027,722.44 925.077,734.30 925.127,746.17 925.197,748.60 925.300,748.70 925.327,748.73 925.477,748.88 925.677,749.04 925.877,749.16 926.177,749.26 926.300,749.29 926.477,749.32 926.977,749.37 927.300,749.39 927.977,749.42 928.300,749.42 928.977,749.43 929.300,749.43 930.300,749.44 930.977,749.44 931.300,749.44 932.300,749.45 933.300,749.45 934.300,749.45 935.300,749.45 936.300,749.45 937.300,749.45 938.300,749.44 938.917,749.44 939.300,749.44 940.300,749.44 940.917,749.43 941.300,749.43 941.917,749.43 942.300,749.42 942.917,749.40 943.300,749.38 943.417,749.37 943.717,749.34 944.017,749.28 944.217,749.22 944.300,749.18 944.417,749.13 944.567,749.04 944.697,748.97 944.767,747.63 944.817,741.05 944.867,734.48 944.917,727.92 944.967,734.48 945.017,741.05 945.067,747.63 945.137,748.97 945.267,749.04 945.300,749.06 945.417,749.13 945.617,749.22 945.817,749.28 946.117,749.34 946.300,749.36 946.417,749.37 946.917,749.39 947.300,749.40 947.917,749.41 948.300,749.42 948.700,749.42 948.917,749.42 949.300,749.42 950.300,749.41 950.700,749.41 950.917,749.41 951.300,749.40 951.700,749.39 952.300,749.37 952.700,749.34 953.200,749.28 953.300,749.26 953.500,749.21 953.800,749.08 954.000,748.95 954.200,748.75 954.300,748.63 954.350,748.57 954.480,748.41 954.550,745.51 954.600,731.32 954.650,717.13 954.700,702.97 954.750,717.13 954.800,731.32 954.850,745.51 954.920,748.41 955.050,748.57 955.200,748.75 955.300,748.86 955.400,748.95 955.600,749.08 955.900,749.21 956.200,749.28 956.300,749.29 956.700,749.34 957.300,749.37 957.700,749.39 958.300,749.40 958.365,749.40 958.700,749.40 959.300,749.41 960.300,749.41 960.365,749.41 960.700,749.41 961.300,749.40 961.365,749.40 962.300,749.38 962.365,749.38 962.865,749.35 963.165,749.31 963.300,749.28 963.465,749.24 963.665,749.17 963.865,749.06 964.015,748.97 964.145,748.88 964.215,747.32 964.265,739.68 964.300,734.30 964.315,732.04 964.365,724.41 964.415,732.04 964.465,739.68 964.515,747.32 964.585,748.88 964.715,748.97 964.865,749.06 965.065,749.17 965.265,749.24 965.300,749.25 965.565,749.31 965.865,749.35 966.300,749.37 966.365,749.38 967.300,749.40 967.365,749.40 967.915,749.41 968.300,749.41 968.365,749.41 969.300,749.41 969.915,749.41 970.300,749.41 970.365,749.41 970.915,749.41 971.300,749.40 971.915,749.39 972.300,749.37 972.415,749.37 972.715,749.35 973.015,749.30 973.215,749.25 973.300,749.23 973.415,749.19 973.565,749.12 973.695,749.07 973.765,748.05 973.815,743.05 973.865,738.06 973.915,733.08 973.965,738.06 974.015,743.05 974.065,748.05 974.135,749.07 974.265,749.12 974.300,749.14 974.415,749.19 974.615,749.25 974.815,749.30 975.115,749.34 975.300,749.36 975.415,749.37 975.915,749.39 976.300,749.40 976.915,749.41 977.300,749.41 977.355,749.41 977.915,749.41 978.300,749.41 979.300,749.41 979.355,749.41 979.915,749.41 980.300,749.41 980.355,749.41 981.300,749.39 981.355,749.39 981.855,749.37 982.155,749.35 982.300,749.34 982.455,749.32 982.655,749.28 982.855,749.22 983.005,749.16 983.135,749.12 983.205,748.25 983.255,744.01 983.300,740.19 983.305,739.78 983.355,735.55 983.405,739.78 983.455,744.01 983.505,748.25 983.575,749.12 983.705,749.16 983.855,749.22 984.055,749.27 984.255,749.31 984.300,749.32 984.555,749.35 984.855,749.37 985.300,749.38 985.355,749.39 986.300,749.40 986.355,749.40 986.688,749.40 987.300,749.40 987.355,749.40 988.300,749.40 988.688,749.39 989.300,749.39 989.355,749.39 989.688,749.38 990.300,749.36 990.688,749.34 991.188,749.29 991.300,749.27 991.488,749.23 991.788,749.13 991.988,749.02 992.188,748.86 992.300,748.76 992.338,748.72 992.468,748.59 992.538,746.26 992.588,734.84 992.638,723.43 992.688,712.04 992.738,723.43 992.788,734.84 992.838,746.26 992.908,748.59 993.038,748.72 993.188,748.86 993.300,748.96 993.388,749.02 993.588,749.13 993.888,749.23 994.188,749.28 994.300,749.30 994.688,749.33 995.300,749.36 995.688,749.37 995.918,749.38 996.300,749.38 996.688,749.38 997.300,749.39 997.918,749.38 998.300,749.38 998.688,749.38 998.918,749.38 999.300,749.37 999.918,749.35 1000.300,749.32 1000.418,749.31 1000.718,749.27 1001.018,749.19 1001.218,749.10 1001.300,749.06 1001.418,748.98 1001.568,748.87 1001.698,748.77 1001.768,746.97 1001.818,738.14 1001.868,729.31 1001.918,720.50 1001.968,729.31 1002.018,738.14 1002.068,746.97 1002.138,748.77 1002.268,748.87 1002.300,748.90 1002.418,748.98 1002.618,749.10 1002.818,749.19 1003.118,749.27 1003.300,749.30 1003.418,749.31 1003.918,749.35 1004.300,749.37 1004.918,749.38 1005.300,749.39 1005.918,749.39 1006.300,749.39 1007.300,749.40 1007.918,749.40 1008.300,749.40 1009.300,749.40 1010.300,749.41 1011.300,749.41 1012.300,749.40 1013.300,749.40 1014.082,749.40 1014.300,749.40 1015.300,749.40 1016.082,749.40 1016.300,749.40 1017.082,749.39 1017.300,749.39 1018.082,749.39 1018.300,749.38 1018.582,749.38 1018.882,749.36 1019.182,749.34 1019.300,749.33 1019.382,749.32 1019.582,749.29 1019.732,749.26 1019.862,749.24 1019.932,748.77 1019.982,746.49 1020.032,744.22 1020.082,741.94 1020.132,744.22 1020.182,746.49 1020.232,748.77 1020.300,749.24 1020.302,749.24 1020.432,749.26 1020.582,749.29 1020.782,749.32 1020.982,749.34 1021.282,749.36 1021.300,749.36 1021.582,749.37 1022.082,749.38 1022.300,749.38 1023.022,749.38 1023.082,749.38 1023.300,749.38 1024.082,749.38 1024.300,749.38 1025.022,749.38 1025.300,749.38 1026.022,749.37 1026.082,749.37 1026.300,749.36 1027.022,749.34 1027.300,749.33 1027.522,749.31 1027.822,749.27 1028.122,749.21 1028.300,749.14 1028.322,749.14 1028.522,749.04 1028.672,748.94 1028.802,748.86 1028.872,747.35 1028.922,739.97 1028.972,732.60 1029.022,725.24 1029.072,732.60 1029.122,739.97 1029.172,747.35 1029.242,748.86 1029.300,748.89 1029.372,748.94 1029.522,749.03 1029.722,749.13 1029.922,749.20 1030.222,749.26 1030.300,749.28 1030.522,749.30 1031.022,749.33 1031.300,749.34 1031.871,749.35 1032.022,749.36 1032.300,749.36 1033.022,749.36 1033.300,749.36 1033.871,749.36 1034.300,749.35 1034.871,749.34 1035.022,749.34 1035.300,749.33 1035.871,749.31 1036.300,749.27 1036.371,749.26 1036.671,749.20 1036.971,749.11 1037.171,749.01 1037.300,748.92 1037.371,748.86 1037.521,748.72 1037.651,748.60 1037.721,746.38 1037.771,735.54 1037.821,724.71 1037.871,713.90 1037.921,724.71 1037.971,735.54 1038.021,746.38 1038.091,748.60 1038.221,748.72 1038.300,748.79 1038.371,748.86 1038.571,749.01 1038.771,749.10 1039.071,749.20 1039.300,749.24 1039.371,749.25 1039.871,749.30 1040.300,749.32 1040.632,749.33 1040.871,749.34 1041.300,749.34 1041.871,749.35 1042.300,749.35 1042.632,749.35 1043.300,749.34 1043.632,749.34 1043.871,749.34 1044.300,749.33 1044.632,749.31 1045.132,749.28 1045.300,749.25 1045.432,749.23 1045.732,749.16 1045.932,749.09 1046.132,748.98 1046.282,748.87 1046.300,748.86 1046.412,748.78 1046.482,747.09 1046.532,738.84 1046.582,730.59 1046.632,722.35 1046.682,730.59 1046.732,738.84 1046.782,747.09 1046.852,748.78 1046.982,748.87 1047.132,748.97 1047.300,749.07 1047.332,749.08 1047.532,749.16 1047.832,749.23 1048.132,749.28 1048.300,749.29 1048.632,749.31 1049.300,749.33 1049.308,749.33 1049.632,749.34 1050.300,749.35 1050.632,749.35 1051.300,749.35 1051.308,749.35 1052.300,749.34 1052.308,749.34 1052.632,749.34 1053.300,749.33 1053.308,749.33 1053.808,749.30 1054.108,749.27 1054.300,749.25 1054.408,749.23 1054.608,749.18 1054.808,749.11 1054.958,749.04 1055.088,748.98 1055.158,747.90 1055.208,742.61 1055.258,737.33 1055.300,732.84 1055.308,732.05 1055.358,737.33 1055.408,742.61 1055.458,747.90 1055.528,748.98 1055.658,749.04 1055.808,749.11 1056.008,749.18 1056.208,749.23 1056.300,749.24 1056.508,749.27 1056.808,749.30 1057.300,749.32 1057.308,749.32 1057.900,749.33 1058.300,749.34 1058.308,749.34 1059.300,749.34 1059.308,749.34 1059.900,749.34 1060.300,749.34 1060.900,749.33 1061.300,749.32 1061.308,749.32 1061.900,749.30 1062.300,749.27 1062.400,749.26 1062.700,749.22 1063.000,749.15 1063.200,749.08 1063.300,749.03 1063.400,748.97 1063.550,748.87 1063.680,748.78 1063.750,747.14 1063.800,739.15 1063.850,731.16 1063.900,723.18 1063.950,731.16 1064.000,739.15 1064.050,747.14 1064.120,748.78 1064.250,748.87 1064.300,748.90 1064.400,748.97 1064.600,749.07 1064.800,749.15 1065.100,749.22 1065.300,749.25 1065.400,749.26 1065.900,749.29 1066.300,749.31 1066.412,749.31 1066.900,749.32 1067.300,749.32 1067.900,749.32 1068.300,749.32 1068.412,749.32 1069.300,749.31 1069.412,749.31 1069.900,749.30 1070.300,749.28 1070.412,749.28 1070.912,749.23 1071.212,749.18 1071.300,749.16 1071.512,749.09 1071.712,749.00 1071.912,748.87 1072.062,748.74 1072.192,748.63 1072.262,746.60 1072.300,739.05 1072.312,736.65 1072.362,726.71 1072.412,716.78 1072.462,726.71 1072.512,736.65 1072.562,746.60 1072.632,748.63 1072.762,748.74 1072.912,748.87 1073.112,749.00 1073.300,749.09 1073.312,749.10 1073.612,749.18 1073.912,749.23 1074.300,749.27 1074.412,749.28 1075.300,749.31 1075.412,749.31 1076.300,749.32 1076.412,749.33 1077.300,749.33 1078.300,749.33 1078.412,749.33 1079.300,749.33 1080.300,749.34 1081.300,749.34 1082.300,749.33 1083.203,749.33 1083.300,749.33 1084.300,749.33 1085.203,749.32 1085.300,749.32 1086.203,749.31 1086.300,749.31 1087.203,749.29 1087.300,749.29 1087.703,749.26 1088.003,749.23 1088.300,749.18 1088.303,749.18 1088.503,749.12 1088.703,749.04 1088.853,748.97 1088.983,748.90 1089.053,747.68 1089.103,741.71 1089.153,735.74 1089.203,729.78 1089.253,735.74 1089.300,741.39 1089.303,741.71 1089.353,747.68 1089.423,748.90 1089.553,748.96 1089.703,749.04 1089.903,749.12 1090.103,749.18 1090.300,749.21 1090.403,749.23 1090.703,749.26 1091.203,749.28 1091.300,749.29 1091.486,749.29 1092.203,749.30 1092.300,749.30 1093.203,749.31 1093.300,749.31 1093.486,749.31 1094.300,749.30 1094.486,749.30 1095.203,749.29 1095.300,749.28 1095.486,749.28 1095.986,749.25 1096.286,749.21 1096.300,749.21 1096.586,749.16 1096.786,749.09 1096.986,749.00 1097.136,748.92 1097.266,748.85 1097.300,748.83 1097.336,747.51 1097.386,740.98 1097.436,734.45 1097.486,727.92 1097.536,734.45 1097.586,740.98 1097.636,747.51 1097.706,748.85 1097.836,748.92 1097.986,749.00 1098.186,749.09 1098.300,749.13 1098.386,749.15 1098.686,749.21 1098.986,749.24 1099.300,749.26 1099.486,749.27 1099.696,749.28 1100.300,749.29 1100.486,749.29 1101.300,749.30 1101.486,749.30 1101.696,749.30 1102.300,749.30 1102.696,749.29 1103.300,749.29 1103.486,749.28 1103.696,749.28 1104.196,749.25 1104.300,749.25 1104.496,749.23 1104.796,749.18 1104.996,749.13 1105.196,749.06 1105.300,749.02 1105.346,749.00 1105.476,748.94 1105.546,747.89 1105.596,742.74 1105.646,737.60 1105.696,732.46 1105.746,737.60 1105.796,742.74 1105.846,747.89 1105.916,748.94 1106.046,749.00 1106.196,749.06 1106.300,749.10 1106.396,749.13 1106.596,749.18 1106.896,749.22 1107.196,749.25 1107.300,749.26 1107.696,749.27 1107.836,749.28 1108.300,749.28 1108.696,749.29 1109.300,749.29 1109.696,749.29 1109.836,749.29 1110.300,749.29 1110.836,749.28 1111.300,749.27 1111.696,749.26 1111.836,749.26 1112.300,749.23 1112.336,749.22 1112.636,749.19 1112.936,749.12 1113.136,749.06 1113.300,748.98 1113.336,748.96 1113.486,748.87 1113.616,748.79 1113.686,747.32 1113.736,740.16 1113.786,733.01 1113.836,725.86 1113.886,733.01 1113.936,740.16 1113.986,747.33 1114.056,748.79 1114.186,748.87 1114.300,748.94 1114.336,748.96 1114.536,749.06 1114.736,749.12 1115.036,749.19 1115.300,749.22 1115.336,749.22 1115.836,749.26 1116.300,749.27 1116.836,749.28 1117.300,749.29 1117.836,749.29 1118.300,749.29 1119.300,749.29 1119.836,749.29 1120.300,749.29 1121.300,749.29 1122.300,749.29 1123.300,749.29 1123.912,749.28 1124.300,749.28 1125.300,749.28 1125.912,749.27 1126.300,749.27 1126.912,749.26 1127.300,749.26 1127.912,749.24 1128.300,749.22 1128.412,749.21 1128.712,749.18 1129.012,749.12 1129.212,749.06 1129.300,749.03 1129.412,748.98 1129.562,748.90 1129.692,748.83 1129.762,747.58 1129.812,741.43 1129.862,735.29 1129.912,729.15 1129.962,735.29 1130.012,741.43 1130.062,747.57 1130.132,748.83 1130.262,748.89 1130.300,748.91 1130.412,748.97 1130.612,749.05 1130.812,749.11 1131.112,749.17 1131.300,749.19 1131.412,749.19 1131.851,749.22 1131.912,749.22 1132.300,749.23 1132.912,749.24 1133.300,749.24 1133.851,749.24 1133.912,749.24 1134.300,749.23 1134.851,749.23 1135.300,749.22 1135.851,749.20 1135.912,749.19 1136.300,749.16 1136.351,749.16 1136.651,749.11 1136.951,749.04 1137.151,748.96 1137.300,748.87 1137.351,748.84 1137.501,748.73 1137.631,748.64 1137.701,746.89 1137.751,738.36 1137.801,729.83 1137.851,721.32 1137.901,729.83 1137.951,738.36 1138.001,746.89 1138.071,748.64 1138.201,748.73 1138.300,748.80 1138.351,748.84 1138.551,748.96 1138.751,749.04 1139.051,749.11 1139.300,749.15 1139.351,749.15 1139.851,749.19 1140.000,749.20 1140.300,749.21 1140.851,749.22 1141.300,749.22 1141.851,749.23 1142.000,749.23 1142.300,749.23 1143.000,749.23 1143.300,749.23 1143.851,749.23 1144.000,749.23 1144.300,749.23 1144.500,749.23 1144.800,749.23 1145.100,749.22 1145.300,749.22 1145.500,749.22 1145.650,749.21 1145.780,749.21 1145.850,749.15 1145.900,748.88 1145.950,748.61 1146.000,748.34 1146.050,748.61 1146.100,748.88 1146.150,749.16 1146.220,749.21 1146.300,749.21 1146.350,749.21 1146.500,749.22 1146.700,749.22 1146.900,749.22 1147.200,749.22 1147.300,749.22 1147.500,749.22 1147.539,749.22 1148.000,749.22 1148.300,749.22 1149.000,749.22 1149.300,749.22 1149.539,749.22 1150.000,749.22 1150.300,749.22 1150.539,749.22 1151.300,749.21 1151.539,749.21 1152.000,749.20 1152.039,749.20 1152.300,749.20 1152.339,749.20 1152.639,749.19 1152.839,749.17 1153.039,749.16 1153.189,749.14 1153.300,749.13 1153.319,749.13 1153.389,748.90 1153.439,747.75 1153.489,746.60 1153.539,745.45 1153.589,746.60 1153.639,747.75 1153.689,748.89 1153.759,749.13 1153.889,749.14 1154.039,749.16 1154.239,749.17 1154.300,749.17 1154.439,749.18 1154.739,749.19 1155.039,749.20 1155.300,749.20 1155.539,749.20 1156.300,749.20 1156.539,749.20 1157.300,749.20 1157.539,749.20" fill="none" stroke="#0000ff" stroke-width="3.0" stroke-linejoin="round" stroke-linecap="butt"/>
<rect x="153.80" y="464.10" width="1050.80" height="300.00" fill="none" stroke="#000" stroke-width="4.95" stroke-linejoin="miter"/>
<line x1="157.40" y1="764.10" x2="157.40" y2="772.60" stroke="#000" stroke-width="1.9"/>
<text x="157.40" y="801.80" font-size="27.00" text-anchor="middle" >0</text>
<line x1="322.16" y1="764.10" x2="322.16" y2="772.60" stroke="#000" stroke-width="1.9"/>
<text x="322.16" y="801.80" font-size="27.00" text-anchor="middle" >2</text>
<line x1="486.92" y1="764.10" x2="486.92" y2="772.60" stroke="#000" stroke-width="1.9"/>
<text x="486.92" y="801.80" font-size="27.00" text-anchor="middle" >4</text>
<line x1="651.68" y1="764.10" x2="651.68" y2="772.60" stroke="#000" stroke-width="1.9"/>
<text x="651.68" y="801.80" font-size="27.00" text-anchor="middle" >6</text>
<line x1="816.44" y1="764.10" x2="816.44" y2="772.60" stroke="#000" stroke-width="1.9"/>
<text x="816.44" y="801.80" font-size="27.00" text-anchor="middle" >8</text>
<line x1="981.20" y1="764.10" x2="981.20" y2="772.60" stroke="#000" stroke-width="1.9"/>
<text x="981.20" y="801.80" font-size="27.00" text-anchor="middle" >10</text>
<line x1="1145.96" y1="764.10" x2="1145.96" y2="772.60" stroke="#000" stroke-width="1.9"/>
<text x="1145.96" y="801.80" font-size="27.00" text-anchor="middle" >12</text>
<line x1="153.80" y1="761.10" x2="145.30" y2="761.10" stroke="#000" stroke-width="1.9"/>
<text x="136.70" y="771.25" font-size="27.00" text-anchor="end" >0</text>
<line x1="153.80" y1="657.98" x2="145.30" y2="657.98" stroke="#000" stroke-width="1.9"/>
<text x="136.70" y="668.13" font-size="27.00" text-anchor="end" >50</text>
<line x1="153.80" y1="554.86" x2="145.30" y2="554.86" stroke="#000" stroke-width="1.9"/>
<text x="136.70" y="565.01" font-size="27.00" text-anchor="end" >100</text>
<text x="194.10" y="513.50" font-size="27.00" text-anchor="start" >c.)</text>
<text x="630.00" y="841.00" font-size="27.0">Q (<tspan font-style="italic">Å</tspan><tspan font-size="18.9" dy="-9.9" dx="2.6">−1</tspan><tspan dy="9.9" dx="1.0">)</tspan></text>
<g transform="translate(69.3,722.8) rotate(-90)">
<text x="0" y="0" font-size="27.0" transform="translate(-0.9,4.9) scale(1.1,1.551)">√</text>
<line x1="16.6" y1="-28.8" x2="141.3" y2="-28.8" stroke="#000" stroke-width="1.1"/>
<text x="22.4" y="0" font-size="27.0"><tspan font-style="italic">Intensity</tspan><tspan dx="2.5"> (a.u.)</tspan></text>
</g>
<path d="M836.75 477.0V629.1H1152.3" fill="none" stroke="#000" stroke-width="2.25" stroke-linecap="square"/>
<clipPath id="ic"><rect x="836.75" y="477.0" width="315.55" height="152.10"/></clipPath>
<g clip-path="url(#ic)">
<polyline points="834.9,624.05 835.4,624.01 835.9,623.96 836.4,623.91 836.9,623.87 837.4,623.82 837.9,623.77 838.4,623.72 838.9,623.67 839.4,623.61 839.9,623.55 840.4,623.49 840.9,623.43 841.4,623.36 841.9,623.30 842.4,623.23 842.9,623.16 843.4,623.09 843.9,623.01 844.4,622.94 844.9,622.85 845.4,622.75 845.9,622.65 846.4,622.56 846.9,622.46 847.4,622.38 847.9,622.30 848.4,622.23 848.9,622.16 849.4,622.08 849.9,622.01 850.4,621.94 850.9,621.87 851.4,621.81 851.9,621.75 852.4,621.70 852.9,621.66 853.4,621.63 853.9,621.61 854.4,621.60 854.9,621.70 855.4,621.92 855.9,622.16 856.4,622.32 856.9,622.42 857.4,622.50 857.9,622.57 858.4,622.64 858.9,622.70 859.4,622.77 859.9,622.85 860.4,622.94 860.9,623.07 861.4,623.22 861.9,623.38 862.4,623.53 862.9,623.66 863.4,623.75 863.9,623.80 864.4,623.79 864.9,623.77 865.4,623.73 865.9,623.68 866.4,623.62 866.9,623.55 867.4,623.49 867.9,623.38 868.4,623.24 868.9,623.06 869.4,622.88 869.9,622.70 870.4,622.54 870.9,622.41 871.4,622.32 871.9,622.30 872.4,622.31 872.9,622.34 873.4,622.38 873.9,622.42 874.4,622.45 874.9,622.48 875.4,622.50 875.9,622.47 876.4,622.34 876.9,622.11 877.4,621.84 877.9,621.55 878.4,621.29 878.9,621.10 879.4,621.00 879.9,621.07 880.4,621.33 880.9,621.74 881.4,622.23 881.9,622.76 882.4,623.27 882.9,623.72 883.4,624.04 883.9,624.20 884.4,624.15 884.9,623.99 885.4,623.73 885.9,623.41 886.4,623.08 886.9,622.76 887.4,622.49 887.9,622.30 888.4,622.17 888.9,622.05 889.4,621.94 889.9,621.83 890.4,621.74 890.9,621.66 891.4,621.59 891.9,621.54 892.4,621.50 892.9,621.47 893.4,621.45 893.9,621.42 894.4,621.40 894.9,621.38 895.4,621.37 895.9,621.36 896.4,621.35 896.9,621.35 897.4,621.35 897.9,621.35 898.4,621.35 898.9,621.35 899.4,621.35 899.9,621.35 900.4,621.35 900.9,621.35 901.4,621.35 901.9,621.35 902.4,621.35 902.9,621.35 903.4,621.35 903.9,621.35 904.4,621.35 904.9,621.35 905.4,621.35 905.9,621.32 906.4,621.26 906.9,621.18 907.4,621.09 907.9,620.99 908.4,620.89 908.9,620.80 909.4,620.73 909.9,620.69 910.4,620.67 910.9,620.64 911.4,620.62 911.9,620.59 912.4,620.57 912.9,620.55 913.4,620.53 913.9,620.51 914.4,620.50 914.9,620.49 915.4,620.47 915.9,620.46 916.4,620.46 916.9,620.45 917.4,620.45 917.9,620.46 918.4,620.50 918.9,620.56 919.4,620.64 919.9,620.73 920.4,620.82 920.9,620.90 921.4,620.96 921.9,621.00 922.4,621.00 922.9,620.97 923.4,620.94 923.9,620.89 924.4,620.83 924.9,620.76 925.4,620.68 925.9,620.55 926.4,620.35 926.9,620.11 927.4,619.85 927.9,619.59 928.4,619.35 928.9,619.16 929.4,619.03 929.9,619.00 930.4,619.03 930.9,619.10 931.4,619.20 931.9,619.30 932.4,619.42 932.9,619.53 933.4,619.62 933.9,619.68 934.4,619.70 934.9,619.69 935.4,619.66 935.9,619.62 936.4,619.56 936.9,619.50 937.4,619.42 937.9,619.33 938.4,619.24 938.9,619.15 939.4,619.05 939.9,618.96 940.4,618.86 940.9,618.78 941.4,618.70 941.9,618.63 942.4,618.56 942.9,618.51 943.4,618.45 943.9,618.40 944.4,618.34 944.9,618.29 945.4,618.24 945.9,618.18 946.4,618.12 946.9,618.06 947.4,618.00 947.9,617.93 948.4,617.86 948.9,617.80 949.4,617.73 949.9,617.65 950.4,617.58 950.9,617.51 951.4,617.43 951.9,617.36 952.4,617.29 952.9,617.22 953.4,617.14 953.9,617.07 954.4,617.00 954.9,616.94 955.4,616.87 955.9,616.81 956.4,616.74 956.9,616.67 957.4,616.59 957.9,616.51 958.4,616.41 958.9,616.30 959.4,616.17 959.9,616.02 960.4,615.86 960.9,615.70 961.4,615.52 961.9,615.35 962.4,615.17 962.9,615.00 963.4,614.83 963.9,614.67 964.4,614.53 964.9,614.39 965.4,614.28 965.9,614.18 966.4,614.09 966.9,614.01 967.4,613.93 967.9,613.86 968.4,613.77 968.9,613.69 969.4,613.59 969.9,613.48 970.4,613.35 970.9,613.20 971.4,613.04 971.9,612.87 972.4,612.68 972.9,612.49 973.4,612.29 973.9,612.08 974.4,611.87 974.9,611.65 975.4,611.44 975.9,611.22 976.4,611.01 976.9,610.80 977.4,610.59 977.9,610.39 978.4,610.19 978.9,609.98 979.4,609.77 979.9,609.56 980.4,609.34 980.9,609.12 981.4,608.88 981.9,608.64 982.4,608.38 982.9,608.11 983.4,607.83 983.9,607.53 984.4,607.21 984.9,606.88 985.4,606.53 985.9,606.17 986.4,605.80 986.9,605.41 987.4,605.01 987.9,604.60 988.4,604.18 988.9,603.75 989.4,603.31 989.9,602.86 990.4,602.40 990.9,601.94 991.4,601.47 991.9,600.98 992.4,600.49 992.9,599.98 993.4,599.45 993.9,598.89 994.4,598.31 994.9,597.70 995.4,597.06 995.9,596.37 996.4,595.65 996.9,594.89 997.4,594.07 997.9,593.18 998.4,592.23 998.9,591.19 999.4,590.07 999.9,588.85 1000.4,587.53 1000.9,586.11 1001.4,584.54 1001.9,582.60 1002.4,580.33 1002.9,577.83 1003.4,575.22 1003.9,572.60 1004.4,569.95 1004.9,567.16 1005.4,564.24 1005.9,561.17 1006.4,557.92 1006.9,554.42 1007.4,550.74 1007.9,547.00 1008.4,543.22 1008.9,539.28 1009.4,535.30 1009.9,531.42 1010.4,527.77 1010.9,524.29 1011.4,520.93 1011.9,517.63 1012.4,514.33 1012.9,510.98 1013.4,507.55 1013.9,504.16 1014.4,500.92 1014.9,497.91 1015.4,494.88 1015.9,491.92 1016.4,489.39 1016.9,487.65 1017.4,486.45 1017.9,485.41 1018.4,484.68 1018.9,484.40 1019.4,484.68 1019.9,485.45 1020.4,486.59 1020.9,487.96 1021.4,489.75 1021.9,492.80 1022.4,496.56 1022.9,500.30 1023.4,503.89 1023.9,507.63 1024.4,511.51 1024.9,515.53 1025.4,519.79 1025.9,524.18 1026.4,528.57 1026.9,532.80 1027.4,536.89 1027.9,540.93 1028.4,544.88 1028.9,548.69 1029.4,552.35 1029.9,555.91 1030.4,559.37 1030.9,562.73 1031.4,565.94 1031.9,569.00 1032.4,571.97 1032.9,574.90 1033.4,577.70 1033.9,580.29 1034.4,582.58 1034.9,584.55 1035.4,586.39 1035.9,588.10 1036.4,589.69 1036.9,591.16 1037.4,592.50 1037.9,593.72 1038.4,594.81 1038.9,595.80 1039.4,596.73 1039.9,597.59 1040.4,598.40 1040.9,599.17 1041.4,599.89 1041.9,600.59 1042.4,601.27 1042.9,601.94 1043.4,602.60 1043.9,603.27 1044.4,603.92 1044.9,604.56 1045.4,605.17 1045.9,605.73 1046.4,606.24 1046.9,606.68 1047.4,607.09 1047.9,607.46 1048.4,607.81 1048.9,608.14 1049.4,608.45 1049.9,608.74 1050.4,609.03 1050.9,609.31 1051.4,609.59 1051.9,609.87 1052.4,610.15 1052.9,610.44 1053.4,610.74 1053.9,611.05 1054.4,611.38 1054.9,611.70 1055.4,612.03 1055.9,612.35 1056.4,612.65 1056.9,612.94 1057.4,613.20 1057.9,613.44 1058.4,613.67 1058.9,613.90 1059.4,614.12 1059.9,614.33 1060.4,614.53 1060.9,614.73 1061.4,614.92 1061.9,615.11 1062.4,615.29 1062.9,615.46 1063.4,615.63 1063.9,615.80 1064.4,615.97 1064.9,616.13 1065.4,616.29 1065.9,616.46 1066.4,616.61 1066.9,616.77 1067.4,616.91 1067.9,617.05 1068.4,617.17 1068.9,617.28 1069.4,617.38 1069.9,617.47 1070.4,617.55 1070.9,617.63 1071.4,617.70 1071.9,617.77 1072.4,617.84 1072.9,617.90 1073.4,617.96 1073.9,618.02 1074.4,618.07 1074.9,618.12 1075.4,618.18 1075.9,618.23 1076.4,618.27 1076.9,618.32 1077.4,618.37 1077.9,618.42 1078.4,618.47 1078.9,618.53 1079.4,618.58 1079.9,618.63 1080.4,618.68 1080.9,618.73 1081.4,618.76 1081.9,618.79 1082.4,618.80 1082.9,618.80 1083.4,618.80 1083.9,618.80 1084.4,618.80 1084.9,618.80 1085.4,618.80 1085.9,618.80 1086.4,618.80 1086.9,618.80 1087.4,618.80 1087.9,618.80 1088.4,618.80 1088.9,618.80 1089.4,618.80 1089.9,618.80 1090.4,618.80 1090.9,618.81 1091.4,618.84 1091.9,618.89 1092.4,618.94 1092.9,619.00 1093.4,619.07 1093.9,619.14 1094.4,619.20 1094.9,619.27 1095.4,619.32 1095.9,619.38 1096.4,619.43 1096.9,619.49 1097.4,619.54 1097.9,619.60 1098.4,619.65 1098.9,619.71 1099.4,619.77 1099.9,619.83 1100.4,619.89 1100.9,619.95 1101.4,620.01 1101.9,620.07 1102.4,620.13 1102.9,620.20 1103.4,620.27 1103.9,620.36 1104.4,620.46 1104.9,620.56 1105.4,620.66 1105.9,620.75 1106.4,620.84 1106.9,620.91 1107.4,620.96 1107.9,620.99 1108.4,620.99 1108.9,620.93 1109.4,620.80 1109.9,620.64 1110.4,620.44 1110.9,620.23 1111.4,620.02 1111.9,619.83 1112.4,619.67 1112.9,619.55 1113.4,619.50 1113.9,619.50 1114.4,619.50 1114.9,619.50 1115.4,619.50 1115.9,619.50 1116.4,619.50 1116.9,619.54 1117.4,619.68 1117.9,619.89 1118.4,620.15 1118.9,620.42 1119.4,620.68 1119.9,620.89 1120.4,621.02 1120.9,621.13 1121.4,621.23 1121.9,621.33 1122.4,621.42 1122.9,621.50 1123.4,621.58 1123.9,621.63 1124.4,621.67 1124.9,621.70 1125.4,621.70 1125.9,621.67 1126.4,621.62 1126.9,621.57 1127.4,621.51 1127.9,621.47 1128.4,621.45 1128.9,621.47 1129.4,621.55 1129.9,621.68 1130.4,621.83 1130.9,621.99 1131.4,622.14 1131.9,622.28 1132.4,622.37 1132.9,622.40 1133.4,622.37 1133.9,622.29 1134.4,622.17 1134.9,622.04 1135.4,621.91 1135.9,621.79 1136.4,621.72 1136.9,621.70 1137.4,621.70 1137.9,621.70 1138.4,621.70 1138.9,621.70 1139.4,621.70 1139.9,621.70 1140.4,621.70 1140.9,621.70 1141.4,621.70 1141.9,621.72 1142.4,621.74 1142.9,621.77 1143.4,621.81 1143.9,621.84 1144.4,621.87 1144.9,621.89 1145.4,621.90 1145.9,621.87 1146.4,621.78 1146.9,621.64 1147.4,621.47 1147.9,621.30 1148.4,621.15 1148.9,621.04 1149.4,621.00 1149.9,621.03 1150.4,621.09 1150.9,621.18 1151.4,621.26 1151.9,621.31 1152.4,621.34 1152.9,621.38 1153.4,621.42 1153.9,621.45 1154.4,621.48 1154.9,621.51 1155.4,621.53 1155.9,621.56" fill="none" stroke="#000080" stroke-width="2.5" stroke-dasharray="8.7 3.8"/>
<polyline points="832.2,614.6 843.9,614.5 855.6,614.3 867.6,614.0 879.4,613.6 891.1,613.4 902.8,612.9 914.6,612.2 926.5,610.6 938.4,608.4 950.2,600.5 962.0,588.3 973.65,565.7 985.5,533.4 997.3,505.9 1009.3,488.0 1021.0,484.4 1032.7,493.9 1044.7,514.7 1056.4,541.8 1068.2,570.2 1079.9,594.4 1091.7,605.2 1103.4,609.1 1115.2,611.1 1126.9,612.2 1138.6,613.1 1150.4,613.6 1162.1,613.9" fill="none" stroke="#0000ff" stroke-width="2.5" stroke-linejoin="round"/>
<circle cx="832.20" cy="614.60" r="3.5" fill="#0000ff"/>
<circle cx="843.90" cy="614.50" r="3.5" fill="#0000ff"/>
<circle cx="855.60" cy="614.30" r="3.5" fill="#0000ff"/>
<circle cx="867.60" cy="614.00" r="3.5" fill="#0000ff"/>
<circle cx="879.40" cy="613.60" r="3.5" fill="#0000ff"/>
<circle cx="891.10" cy="613.40" r="3.5" fill="#0000ff"/>
<circle cx="902.80" cy="612.90" r="3.5" fill="#0000ff"/>
<circle cx="914.60" cy="612.20" r="3.5" fill="#0000ff"/>
<circle cx="926.50" cy="610.60" r="3.5" fill="#0000ff"/>
<circle cx="938.40" cy="608.40" r="3.5" fill="#0000ff"/>
<circle cx="950.20" cy="600.50" r="3.5" fill="#0000ff"/>
<circle cx="962.00" cy="588.30" r="3.5" fill="#0000ff"/>
<circle cx="973.65" cy="565.70" r="3.5" fill="#0000ff"/>
<circle cx="985.50" cy="533.40" r="3.5" fill="#0000ff"/>
<circle cx="997.30" cy="505.90" r="3.5" fill="#0000ff"/>
<circle cx="1009.30" cy="488.00" r="3.5" fill="#0000ff"/>
<circle cx="1021.00" cy="484.40" r="3.5" fill="#0000ff"/>
<circle cx="1032.70" cy="493.90" r="3.5" fill="#0000ff"/>
<circle cx="1044.70" cy="514.70" r="3.5" fill="#0000ff"/>
<circle cx="1056.40" cy="541.80" r="3.5" fill="#0000ff"/>
<circle cx="1068.20" cy="570.20" r="3.5" fill="#0000ff"/>
<circle cx="1079.90" cy="594.40" r="3.5" fill="#0000ff"/>
<circle cx="1091.70" cy="605.20" r="3.5" fill="#0000ff"/>
<circle cx="1103.40" cy="609.10" r="3.5" fill="#0000ff"/>
<circle cx="1115.20" cy="611.10" r="3.5" fill="#0000ff"/>
<circle cx="1126.90" cy="612.20" r="3.5" fill="#0000ff"/>
<circle cx="1138.60" cy="613.10" r="3.5" fill="#0000ff"/>
<circle cx="1150.40" cy="613.60" r="3.5" fill="#0000ff"/>
<circle cx="1162.10" cy="613.90" r="3.5" fill="#0000ff"/>
</g>
<line x1="836.75" y1="629.10" x2="836.75" y2="637.90" stroke="#000" stroke-width="2.25"/>
<text x="836.45" y="666.30" font-size="27.00" text-anchor="middle" >1.50</text>
<line x1="994.60" y1="629.10" x2="994.60" y2="637.90" stroke="#000" stroke-width="2.25"/>
<text x="994.30" y="666.30" font-size="27.00" text-anchor="middle" >1.51</text>
<line x1="1152.30" y1="629.10" x2="1152.30" y2="637.90" stroke="#000" stroke-width="2.25"/>
<text x="1152.00" y="666.30" font-size="27.00" text-anchor="middle" >1.52</text>
<line x1="836.75" y1="629.10" x2="828.10" y2="629.10" stroke="#000" stroke-width="2.25"/>
<text x="819.30" y="639.20" font-size="27.00" text-anchor="end" >0</text>
<line x1="836.75" y1="492.70" x2="828.10" y2="492.70" stroke="#000" stroke-width="2.25"/>
<text x="819.30" y="502.80" font-size="27.00" text-anchor="end" >100</text>
</g>
</svg>
</body></html>
